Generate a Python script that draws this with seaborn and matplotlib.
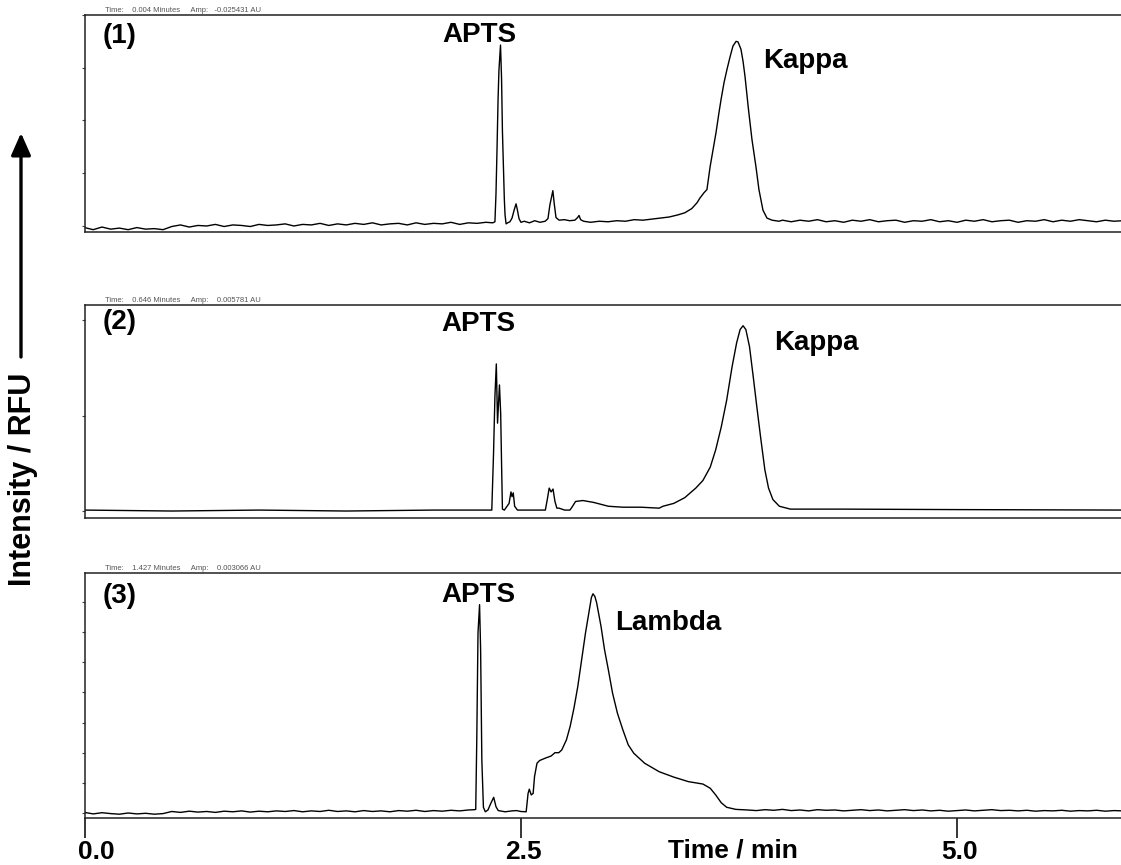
import numpy as np
import pandas as pd
import matplotlib
matplotlib.use("Agg")
import matplotlib.pyplot as plt
from matplotlib.patches import FancyArrowPatch
from matplotlib.transforms import ScaledTranslation, blended_transform_factory
import seaborn as sns

# ---------------- data ----------------
p1_time = [0.00, 0.05, 0.10, 0.15, 0.20, 0.25, 0.30, 0.35, 0.40, 0.45,
           0.50, 0.55, 0.60, 0.65, 0.70, 0.75, 0.80, 0.85, 0.90, 0.95,
           1.00, 1.05, 1.10, 1.15, 1.20, 1.25, 1.30, 1.35, 1.40, 1.45,
           1.50, 1.55, 1.60, 1.65, 1.70, 1.75, 1.80, 1.85, 1.90, 1.95,
           2.00, 2.05, 2.10, 2.15, 2.20, 2.25, 2.30, 2.340,
           2.352, 2.358, 2.364, 2.370, 2.375, 2.384, 2.390, 2.395, 2.401, 2.406,
           2.410, 2.416, 2.425, 2.438, 2.450, 2.462, 2.473, 2.481, 2.490, 2.501,
           2.52, 2.55, 2.58, 2.61, 2.640, 2.656, 2.667, 2.684, 2.692, 2.702,
           2.72, 2.75, 2.78, 2.81, 2.826, 2.834, 2.843, 2.86, 2.90, 2.95,
           3.00, 3.05, 3.10, 3.15, 3.20, 3.25, 3.30, 3.35, 3.40, 3.44,
           3.48, 3.51, 3.527, 3.550, 3.567, 3.585, 3.602, 3.619, 3.636, 3.648,
           3.665, 3.682, 3.699, 3.716, 3.734, 3.745, 3.762, 3.774, 3.785, 3.805,
           3.825, 3.848, 3.865, 3.888, 3.911, 3.940, 3.98, 4.00,
           4.05, 4.10, 4.15, 4.20, 4.25, 4.30, 4.35, 4.40, 4.45, 4.50,
           4.55, 4.60, 4.65, 4.70, 4.75, 4.80, 4.85, 4.90, 4.95, 5.00,
           5.05, 5.10, 5.15, 5.20, 5.25, 5.30, 5.35, 5.40, 5.45, 5.50,
           5.55, 5.60, 5.65, 5.70, 5.75, 5.80, 5.85, 5.90, 5.95]
p1_rfu = [-0.03, -0.07, -0.02, -0.06, -0.04, -0.07, -0.03, -0.06, -0.05, -0.07,
          -0.01, 0.02, -0.02, 0.01, 0.00, 0.03, -0.01, 0.02, 0.01, -0.01,
          0.03, 0.01, 0.02, 0.04, 0.00, 0.03, 0.02, 0.05, 0.01, 0.04,
          0.02, 0.05, 0.03, 0.06, 0.02, 0.04, 0.05, 0.02, 0.06, 0.03,
          0.05, 0.04, 0.07, 0.03, 0.06, 0.05, 0.07, 0.06,
          0.08, 0.60, 1.45, 2.40, 2.95, 3.43, 2.80, 1.80, 1.10, 0.50,
          0.21, 0.04, 0.06, 0.08, 0.15, 0.30, 0.42, 0.30, 0.14, 0.07,
          0.09, 0.06, 0.10, 0.07, 0.09, 0.14, 0.40, 0.67, 0.42, 0.16,
          0.11, 0.12, 0.10, 0.11, 0.16, 0.20, 0.12, 0.09, 0.07, 0.09,
          0.08, 0.10, 0.09, 0.12, 0.11, 0.13, 0.15, 0.17, 0.21, 0.25,
          0.33, 0.44, 0.53, 0.63, 0.69, 1.12, 1.45, 1.77, 2.15, 2.40,
          2.72, 2.97, 3.20, 3.41, 3.50, 3.49, 3.35, 3.12, 2.84, 2.21,
          1.64, 1.12, 0.69, 0.30, 0.15, 0.11, 0.09, 0.11,
          0.08, 0.11, 0.09, 0.12, 0.08, 0.10, 0.07, 0.11, 0.09, 0.12,
          0.08, 0.10, 0.11, 0.07, 0.10, 0.09, 0.12, 0.08, 0.10, 0.07,
          0.11, 0.09, 0.12, 0.08, 0.10, 0.11, 0.07, 0.10, 0.09, 0.12,
          0.08, 0.11, 0.09, 0.12, 0.10, 0.08, 0.11, 0.09, 0.10]

p2_time = [0.00, 0.50, 1.00, 1.50, 2.00, 2.30, 2.334,
           2.344, 2.352, 2.360, 2.367, 2.378, 2.385, 2.390, 2.395,
           2.406, 2.433, 2.444, 2.450, 2.457, 2.465, 2.481, 2.55, 2.641,
           2.652, 2.663, 2.674, 2.685, 2.696, 2.707, 2.720, 2.751, 2.782,
           2.797, 2.814, 2.856, 2.918, 3.002, 3.085, 3.189, 3.293, 3.315,
           3.377, 3.440, 3.503, 3.544, 3.586, 3.617, 3.649, 3.680, 3.711,
           3.737, 3.757, 3.774, 3.790, 3.811, 3.832, 3.853, 3.874, 3.899,
           3.920, 3.945, 3.982, 4.045, 4.337, 5.00, 5.963]
p2_rfu = [0.01, 0.00, 0.01, 0.00, 0.01, 0.01, 0.01,
          0.60, 1.20, 1.54, 0.92, 1.32, 1.02, 0.50, 0.02,
          0.01, 0.08, 0.20, 0.15, 0.19, 0.05, 0.01, 0.01, 0.01,
          0.12, 0.24, 0.20, 0.23, 0.10, 0.03, 0.03, 0.01, 0.01,
          0.05, 0.10, 0.11, 0.09, 0.05, 0.04, 0.04, 0.03, 0.05,
          0.08, 0.14, 0.24, 0.32, 0.46, 0.64, 0.88, 1.16, 1.51,
          1.76, 1.90, 1.94, 1.90, 1.72, 1.41, 1.09, 0.78, 0.43,
          0.24, 0.12, 0.05, 0.02, 0.02, 0.015, 0.01]

p3_time = [0.00, 0.05, 0.10, 0.15, 0.20, 0.25, 0.30, 0.35, 0.40, 0.45,
           0.50, 0.55, 0.60, 0.65, 0.70, 0.75, 0.80, 0.85, 0.90, 0.95,
           1.00, 1.05, 1.10, 1.15, 1.20, 1.25, 1.30, 1.35, 1.40, 1.45,
           1.50, 1.55, 1.60, 1.65, 1.70, 1.75, 1.80, 1.85, 1.90, 1.95,
           2.00, 2.05, 2.10, 2.15, 2.20, 2.235,
           2.242, 2.248, 2.255, 2.264, 2.270, 2.277, 2.286, 2.297, 2.312, 2.330,
           2.345, 2.358, 2.371, 2.411, 2.45, 2.476, 2.50, 2.531, 2.542, 2.549,
           2.560, 2.571, 2.579, 2.593, 2.608, 2.641, 2.674, 2.696, 2.718, 2.735,
           2.762, 2.783, 2.805, 2.827, 2.849, 2.871, 2.893, 2.905, 2.914, 2.925,
           2.935, 2.960, 2.980, 3.002, 3.026, 3.054, 3.085, 3.116, 3.148, 3.210,
           3.293, 3.377, 3.461, 3.544, 3.586, 3.617, 3.649, 3.680, 3.732,
           3.80, 3.85, 3.90, 3.95, 4.00, 4.05, 4.10, 4.15, 4.20, 4.25,
           4.30, 4.35, 4.40, 4.45, 4.50, 4.55, 4.60, 4.65, 4.70, 4.75,
           4.80, 4.85, 4.90, 4.95, 5.00, 5.05, 5.10, 5.15, 5.20, 5.25,
           5.30, 5.35, 5.40, 5.45, 5.50, 5.55, 5.60, 5.65, 5.70, 5.75,
           5.80, 5.85, 5.90, 5.95]
p3_rfu = [0.02, -0.03, 0.01, -0.02, -0.04, 0.00, -0.03, -0.01, -0.04, -0.02,
          0.05, 0.02, 0.06, 0.03, 0.05, 0.02, 0.06, 0.04, 0.07, 0.03,
          0.06, 0.04, 0.07, 0.05, 0.08, 0.04, 0.07, 0.05, 0.09, 0.05,
          0.07, 0.04, 0.08, 0.05, 0.07, 0.04, 0.08, 0.06, 0.09, 0.05,
          0.08, 0.06, 0.09, 0.07, 0.10, 0.11,
          0.12, 2.43, 5.97, 6.91, 5.42, 1.76, 0.19, 0.04, 0.10, 0.34,
          0.52, 0.21, 0.08, 0.04, 0.07, 0.08, 0.05, 0.04, 0.65, 0.79,
          0.60, 0.65, 1.21, 1.65, 1.74, 1.82, 1.89, 2.00, 2.00, 2.09,
          2.43, 2.87, 3.48, 4.20, 5.08, 5.97, 6.74, 7.15, 7.27, 7.18,
          6.97, 6.19, 5.42, 4.75, 3.98, 3.31, 2.76, 2.26, 1.98, 1.65,
          1.37, 1.19, 1.04, 0.96, 0.82, 0.60, 0.34, 0.19, 0.12,
          0.10, 0.08, 0.11, 0.09, 0.12, 0.08, 0.10, 0.07, 0.11, 0.09,
          0.10, 0.07, 0.09, 0.11, 0.08, 0.10, 0.07, 0.09, 0.11, 0.08,
          0.10, 0.07, 0.09, 0.06, 0.08, 0.10, 0.07, 0.09, 0.11, 0.08,
          0.09, 0.07, 0.09, 0.06, 0.08, 0.07, 0.09, 0.06, 0.08, 0.07,
          0.09, 0.06, 0.08, 0.07]

panel_tags = ["(1)", "(2)", "(3)"]
peak_labels = [["APTS", "Kappa"], ["APTS", "Kappa"], ["APTS", "Lambda"]]
header_texts = ["Time:    0.004 Minutes     Amp:   -0.025431 AU",
                "Time:    0.646 Minutes     Amp:    0.005781 AU",
                "Time:    1.427 Minutes     Amp:    0.003066 AU"]
x_ticks = [0.0, 2.5, 5.0]
x_ticklabels = ["0.0", "2.5", "5.0"]
x_title = "Time / min"
y_title = "Intensity / RFU"

# ---------------- styling ----------------
sns.set_style("white")
plt.rcParams["font.family"] = ["Liberation Sans", "DejaVu Sans"]
plt.rcParams["font.weight"] = "bold"
plt.rcParams["text.color"] = "black"
plt.rcParams["xtick.color"] = "black"
plt.rcParams["ytick.color"] = "black"

W, H = 1121, 865
fig = plt.figure(figsize=(W / 100, H / 100), dpi=100)

x0_px, px_per_min = 84.5, 174.5
right_px = 1125
xmax = (right_px - x0_px) / px_per_min

# (top_px, bottom_px, ylim, n_ticks)
panel_geom = [
    (15, 232, (-0.114, 4.00), 5),
    (305, 518, (-0.073, 2.157), 3),
    (573, 818, (-0.166, 7.96), 8),
]
traces = [(p1_time, p1_rfu), (p2_time, p2_rfu), (p3_time, p3_rfu)]

# label placement (time, rfu) per panel
tag_pos = [(0.106, 3.47), (0.106, 1.91), (0.106, 6.97)]
apts_pos = [(2.264, 3.49), (2.259, 1.88), (2.257, 7.01)]
main_pos = [(3.888, 3.00), (3.951, 1.69), (3.043, 6.07)]

axes = []
for i, ((top, bot, ylim, nt), (tt, vv)) in enumerate(zip(panel_geom, traces)):
    ax = fig.add_axes([x0_px / W, (H - bot) / H, (right_px - x0_px) / W, (bot - top) / H])
    df = pd.DataFrame({"time": tt, "rfu": vv})
    sns.lineplot(data=df, x="time", y="rfu", ax=ax, color="black", lw=1.0,
                 estimator=None, sort=False)
    ax.set_xlim(0, xmax)
    ax.set_ylim(*ylim)
    ax.set_xlabel("")
    ax.set_ylabel("")
    for sp in ax.spines.values():
        sp.set_color("#222222")
        sp.set_linewidth(1.1)
    ax.set_yticks(list(range(nt)))
    ax.set_yticklabels([])
    ax.tick_params(axis="y", left=True, length=2.5, width=0.8, direction="out", color="#444444")
    if i < 2:
        ax.set_xticks([])
    ax.text(tag_pos[i][0], tag_pos[i][1], panel_tags[i], fontsize=20, fontweight="bold",
            ha="left", va="baseline", color="black")
    ax.text(apts_pos[i][0], apts_pos[i][1], peak_labels[i][0], fontsize=20, fontweight="bold",
            ha="center", va="baseline", color="black")
    ax.text(main_pos[i][0], main_pos[i][1], peak_labels[i][1], fontsize=20, fontweight="bold",
            ha="left", va="baseline", color="black")
    trans = blended_transform_factory(ax.transData, ax.transAxes)
    ax.text(0.117, 1.005, header_texts[i], transform=trans, fontsize=5.5,
            fontweight="normal", color="#555555", ha="left", va="bottom")
    axes.append(ax)

ax3 = axes[2]
ax3.set_xticks(x_ticks)
ax3.set_xticklabels(x_ticklabels, fontsize=19, fontweight="bold", color="black")
ax3.tick_params(axis="x", bottom=True, length=14.5, width=1.1, direction="out",
                color="black", pad=1.0)
offsets = [12, 3, 3]
for lab, off in zip(ax3.get_xticklabels(), offsets):
    lab.set_transform(lab.get_transform() + ScaledTranslation(off / 100, 0, fig.dpi_scale_trans))

trans3 = blended_transform_factory(ax3.transData, ax3.transAxes)
ax3.text((733 - x0_px) / px_per_min, -(858 - 818) / (818 - 573), x_title, transform=trans3,
         fontsize=19, fontweight="bold", ha="center", va="baseline", color="black")

# y-axis title with arrow
fig.text(23 / W, 1 - 479 / H, y_title, rotation=90, fontsize=22, fontweight="bold",
         ha="center", va="center", color="black")
arrow = FancyArrowPatch((21 / W, 1 - 357 / H), (21 / W, 1 - 133 / H),
                        transform=fig.transFigure, arrowstyle="-|>,head_length=0.45,head_width=0.2",
                        mutation_scale=30, lw=2.4, color="black", shrinkA=0, shrinkB=0)
fig.add_artist(arrow)

fig.savefig("out.png", dpi=100)
